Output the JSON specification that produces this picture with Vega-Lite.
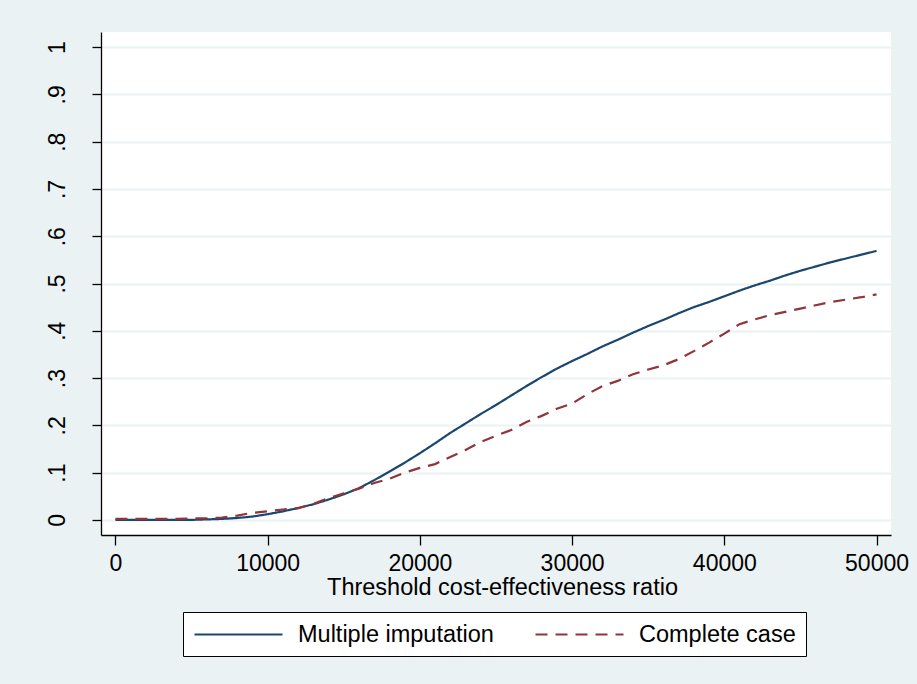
{
  "$schema": "https://vega.github.io/schema/vega-lite/v6.json",
  "width": 790,
  "height": 503,
  "autosize": {"type": "none"},
  "padding": {"left": 101, "top": 32, "right": 26, "bottom": 149},
  "background": "#EAF2F3",
  "config": {
    "view": {"fill": "white", "stroke": null},
    "font": "Liberation Sans"
  },
  "data": {
    "values": [
      {"ratio": 0, "prob": 0, "series": "Multiple imputation"},
      {"ratio": 1000, "prob": 0, "series": "Multiple imputation"},
      {"ratio": 2000, "prob": 0, "series": "Multiple imputation"},
      {"ratio": 3000, "prob": 0, "series": "Multiple imputation"},
      {"ratio": 4000, "prob": 0, "series": "Multiple imputation"},
      {"ratio": 5000, "prob": 0, "series": "Multiple imputation"},
      {"ratio": 6000, "prob": 0.001, "series": "Multiple imputation"},
      {"ratio": 7000, "prob": 0.002, "series": "Multiple imputation"},
      {"ratio": 8000, "prob": 0.004, "series": "Multiple imputation"},
      {"ratio": 9000, "prob": 0.007, "series": "Multiple imputation"},
      {"ratio": 10000, "prob": 0.012, "series": "Multiple imputation"},
      {"ratio": 11000, "prob": 0.018, "series": "Multiple imputation"},
      {"ratio": 12000, "prob": 0.025, "series": "Multiple imputation"},
      {"ratio": 13000, "prob": 0.033, "series": "Multiple imputation"},
      {"ratio": 14000, "prob": 0.043, "series": "Multiple imputation"},
      {"ratio": 15000, "prob": 0.054, "series": "Multiple imputation"},
      {"ratio": 16000, "prob": 0.067, "series": "Multiple imputation"},
      {"ratio": 17000, "prob": 0.084, "series": "Multiple imputation"},
      {"ratio": 18000, "prob": 0.102, "series": "Multiple imputation"},
      {"ratio": 19000, "prob": 0.121, "series": "Multiple imputation"},
      {"ratio": 20000, "prob": 0.141, "series": "Multiple imputation"},
      {"ratio": 21000, "prob": 0.162, "series": "Multiple imputation"},
      {"ratio": 22000, "prob": 0.184, "series": "Multiple imputation"},
      {"ratio": 23000, "prob": 0.204, "series": "Multiple imputation"},
      {"ratio": 24000, "prob": 0.224, "series": "Multiple imputation"},
      {"ratio": 25000, "prob": 0.243, "series": "Multiple imputation"},
      {"ratio": 26000, "prob": 0.263, "series": "Multiple imputation"},
      {"ratio": 27000, "prob": 0.283, "series": "Multiple imputation"},
      {"ratio": 28000, "prob": 0.302, "series": "Multiple imputation"},
      {"ratio": 29000, "prob": 0.32, "series": "Multiple imputation"},
      {"ratio": 30000, "prob": 0.336, "series": "Multiple imputation"},
      {"ratio": 31000, "prob": 0.351, "series": "Multiple imputation"},
      {"ratio": 32000, "prob": 0.367, "series": "Multiple imputation"},
      {"ratio": 33000, "prob": 0.381, "series": "Multiple imputation"},
      {"ratio": 34000, "prob": 0.396, "series": "Multiple imputation"},
      {"ratio": 35000, "prob": 0.41, "series": "Multiple imputation"},
      {"ratio": 36000, "prob": 0.423, "series": "Multiple imputation"},
      {"ratio": 37000, "prob": 0.437, "series": "Multiple imputation"},
      {"ratio": 38000, "prob": 0.45, "series": "Multiple imputation"},
      {"ratio": 39000, "prob": 0.461, "series": "Multiple imputation"},
      {"ratio": 40000, "prob": 0.473, "series": "Multiple imputation"},
      {"ratio": 41000, "prob": 0.485, "series": "Multiple imputation"},
      {"ratio": 42000, "prob": 0.496, "series": "Multiple imputation"},
      {"ratio": 43000, "prob": 0.506, "series": "Multiple imputation"},
      {"ratio": 44000, "prob": 0.517, "series": "Multiple imputation"},
      {"ratio": 45000, "prob": 0.527, "series": "Multiple imputation"},
      {"ratio": 46000, "prob": 0.536, "series": "Multiple imputation"},
      {"ratio": 47000, "prob": 0.545, "series": "Multiple imputation"},
      {"ratio": 48000, "prob": 0.553, "series": "Multiple imputation"},
      {"ratio": 49000, "prob": 0.561, "series": "Multiple imputation"},
      {"ratio": 50000, "prob": 0.569, "series": "Multiple imputation"},
      {"ratio": 0, "prob": 0.002, "series": "Complete case"},
      {"ratio": 1000, "prob": 0.002, "series": "Complete case"},
      {"ratio": 2000, "prob": 0.002, "series": "Complete case"},
      {"ratio": 3000, "prob": 0.002, "series": "Complete case"},
      {"ratio": 4000, "prob": 0.002, "series": "Complete case"},
      {"ratio": 5000, "prob": 0.003, "series": "Complete case"},
      {"ratio": 6000, "prob": 0.003, "series": "Complete case"},
      {"ratio": 7000, "prob": 0.005, "series": "Complete case"},
      {"ratio": 8000, "prob": 0.009, "series": "Complete case"},
      {"ratio": 9000, "prob": 0.015, "series": "Complete case"},
      {"ratio": 10000, "prob": 0.018, "series": "Complete case"},
      {"ratio": 11000, "prob": 0.022, "series": "Complete case"},
      {"ratio": 12000, "prob": 0.025, "series": "Complete case"},
      {"ratio": 13000, "prob": 0.034, "series": "Complete case"},
      {"ratio": 14000, "prob": 0.046, "series": "Complete case"},
      {"ratio": 15000, "prob": 0.056, "series": "Complete case"},
      {"ratio": 16000, "prob": 0.066, "series": "Complete case"},
      {"ratio": 17000, "prob": 0.078, "series": "Complete case"},
      {"ratio": 18000, "prob": 0.087, "series": "Complete case"},
      {"ratio": 19000, "prob": 0.1, "series": "Complete case"},
      {"ratio": 20000, "prob": 0.11, "series": "Complete case"},
      {"ratio": 21000, "prob": 0.118, "series": "Complete case"},
      {"ratio": 22000, "prob": 0.133, "series": "Complete case"},
      {"ratio": 23000, "prob": 0.148, "series": "Complete case"},
      {"ratio": 24000, "prob": 0.165, "series": "Complete case"},
      {"ratio": 25000, "prob": 0.178, "series": "Complete case"},
      {"ratio": 26000, "prob": 0.19, "series": "Complete case"},
      {"ratio": 27000, "prob": 0.207, "series": "Complete case"},
      {"ratio": 28000, "prob": 0.22, "series": "Complete case"},
      {"ratio": 29000, "prob": 0.235, "series": "Complete case"},
      {"ratio": 30000, "prob": 0.246, "series": "Complete case"},
      {"ratio": 31000, "prob": 0.266, "series": "Complete case"},
      {"ratio": 32000, "prob": 0.283, "series": "Complete case"},
      {"ratio": 33000, "prob": 0.294, "series": "Complete case"},
      {"ratio": 34000, "prob": 0.308, "series": "Complete case"},
      {"ratio": 35000, "prob": 0.318, "series": "Complete case"},
      {"ratio": 36000, "prob": 0.327, "series": "Complete case"},
      {"ratio": 37000, "prob": 0.34, "series": "Complete case"},
      {"ratio": 38000, "prob": 0.357, "series": "Complete case"},
      {"ratio": 39000, "prob": 0.375, "series": "Complete case"},
      {"ratio": 40000, "prob": 0.394, "series": "Complete case"},
      {"ratio": 41000, "prob": 0.414, "series": "Complete case"},
      {"ratio": 42000, "prob": 0.424, "series": "Complete case"},
      {"ratio": 43000, "prob": 0.433, "series": "Complete case"},
      {"ratio": 44000, "prob": 0.44, "series": "Complete case"},
      {"ratio": 45000, "prob": 0.447, "series": "Complete case"},
      {"ratio": 46000, "prob": 0.454, "series": "Complete case"},
      {"ratio": 47000, "prob": 0.461, "series": "Complete case"},
      {"ratio": 48000, "prob": 0.466, "series": "Complete case"},
      {"ratio": 49000, "prob": 0.471, "series": "Complete case"},
      {"ratio": 50000, "prob": 0.477, "series": "Complete case"}
    ]
  },
  "mark": {"type": "line", "strokeWidth": 2.2},
  "encoding": {
    "x": {
      "field": "ratio",
      "type": "quantitative",
      "scale": {"domain": [-950, 50950], "nice": false, "zero": false},
      "axis": {
        "values": [0, 10000, 20000, 30000, 40000, 50000],
        "format": "d",
        "title": "Threshold cost-effectiveness ratio",
        "titleX": 401,
        "titleAlign": "center",
        "grid": false,
        "labelFontSize": 23,
        "titleFontSize": 23.5,
        "titleFontWeight": "normal",
        "labelColor": "black",
        "titleColor": "black",
        "domainColor": "black",
        "tickColor": "black",
        "domainWidth": 1.3,
        "tickWidth": 1.3,
        "tickSize": 10,
        "labelPadding": 7,
        "titlePadding": 0,
        "labelFlush": false,
        "labelOverlap": false
      }
    },
    "y": {
      "field": "prob",
      "type": "quantitative",
      "scale": {"domain": [-0.032, 1.032], "nice": false, "zero": false},
      "axis": {
        "values": [0, 0.1, 0.2, 0.3, 0.4, 0.5, 0.6, 0.7, 0.8, 0.9, 1],
        "labelExpr": "datum.value == 0 ? '0' : datum.value == 1 ? '1' : '.' + format(datum.value * 10, '.0f')",
        "title": null,
        "grid": true,
        "gridColor": "#EAF2F3",
        "gridWidth": 2,
        "labelFontSize": 23,
        "labelColor": "black",
        "labelAngle": 270,
        "labelAlign": "center",
        "labelBaseline": "alphabetic",
        "labelPadding": 28,
        "domainColor": "black",
        "tickColor": "black",
        "domainWidth": 1.3,
        "tickWidth": 1.3,
        "tickSize": 9,
        "labelFlush": false,
        "labelOverlap": false
      }
    },
    "color": {
      "field": "series",
      "type": "nominal",
      "scale": {"domain": ["Multiple imputation", "Complete case"], "range": ["#1a476f", "#90353b"]},
      "legend": {
        "orient": "none",
        "legendX": 82,
        "legendY": 580,
        "direction": "horizontal",
        "columns": 2,
        "title": null,
        "symbolType": "M-1,0H7",
        "symbolSize": 484,
        "symbolStrokeWidth": 2.2,
        "labelFontSize": 23.5,
        "labelColor": "black",
        "labelOffset": 80,
        "labelLimit": 400,
        "columnPadding": 37,
        "padding": 10,
        "strokeColor": "black",
        "fillColor": "white"
      }
    },
    "strokeDash": {
      "field": "series",
      "type": "nominal",
      "scale": {"domain": ["Multiple imputation", "Complete case"], "range": [[1, 0], [12, 8]]},
      "legend": {
        "orient": "none",
        "legendX": 82,
        "legendY": 580,
        "direction": "horizontal",
        "columns": 2,
        "title": null,
        "symbolType": "M-1,0H7",
        "symbolSize": 484,
        "symbolStrokeWidth": 2.2,
        "labelFontSize": 23.5,
        "labelColor": "black",
        "labelOffset": 80,
        "labelLimit": 400,
        "columnPadding": 37,
        "padding": 10,
        "strokeColor": "black",
        "fillColor": "white"
      }
    }
  }
}
